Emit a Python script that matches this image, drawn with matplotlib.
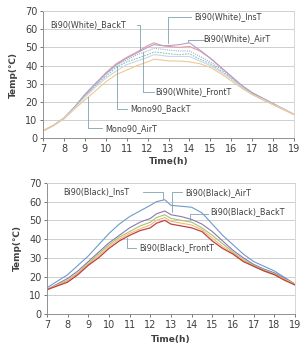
import matplotlib
matplotlib.use("Agg")
import matplotlib.pyplot as plt
import numpy as np

plt.rcParams['font.family'] = ['DejaVu Sans', 'Noto Sans CJK SC']

t = [7, 7.5, 8, 8.5, 9, 9.5, 10, 10.5, 11, 11.5, 12, 12.3, 12.7, 13, 13.5, 14,
     14.5, 15, 15.5, 16, 16.5, 17, 17.5, 18, 18.5, 19]

# top panel, white backsheet
w_ins = [4, 7, 11, 17, 24, 30, 36, 41, 44.5, 47.5, 51, 52.5, 51, 50.5, 50, 50.5,
         48, 44, 39, 34, 29, 25, 22, 19, 16, 13]
w_air = [4, 7, 11, 17, 24, 30, 35.5, 40.5, 44, 47, 50, 51.5, 51, 51, 51.5, 52.5,
         48.5, 44, 39, 34, 29, 25, 22, 19, 16, 13]
w_back = [4, 7, 11, 17, 23.5, 29, 35, 40, 43, 46, 48, 49.5, 49, 48.5, 48, 48,
          45, 42, 38, 33.5, 28.5, 24.5, 21.5, 18.5, 16, 13]
w_front = [4, 7, 11, 17, 23, 29, 34, 39, 42, 44, 46, 47.5, 47, 46.5, 46, 46.5,
           43.5, 41, 37, 33, 28, 24.5, 21.5, 18.5, 16, 13]
m_back = [4, 7, 11, 16.5, 22.5, 28, 33, 37, 40.5, 42.5, 44.5, 46, 45.5, 45, 45, 45,
          42.5, 40, 36.5, 32.5, 28, 24, 21.5, 18.5, 16, 13]
m_air = [4, 7, 10.5, 16, 21, 26, 31, 35, 37.5, 40, 42, 43.5, 43, 42.5, 42.5, 42,
         41, 39, 35.5, 31.5, 27.5, 24, 21, 18.5, 15.5, 13]

# bottom panel, black backsheet
b_ins = [14, 17.5, 21, 26, 31, 37, 43, 48, 52, 55, 58, 60, 61, 58, 57.5, 57,
         54, 48, 42, 37, 32, 28, 25.5, 23, 19.5, 16]
b_air = [13, 16, 19, 23, 28, 33, 38, 42, 46, 49, 51, 53.5, 55, 53, 52, 50.5,
         48, 44, 39, 34, 30, 26.5, 24, 22, 19, 16]
b_back = [13, 15.5, 18, 22, 27, 32, 37, 41, 44, 47, 49, 51.5, 53, 51, 50, 49,
          46, 42, 37.5, 33, 29, 26, 23.5, 21.5, 18.5, 16]
b_amb = [13, 15.5, 17.5, 21.5, 26.5, 31, 36, 40, 43, 45.5, 47.5, 50, 51.5, 49.5, 48.5, 47.5,
         45, 40.5, 36, 32.5, 28.5, 25.5, 23, 21, 18.5, 16]
b_front = [13, 15, 17, 21, 26, 30, 35, 39, 42, 44.5, 46, 48.5, 50, 48, 47, 46,
           44, 39, 35, 32, 28, 25.5, 23, 21, 18, 15.5]

fig = plt.figure(figsize=(3.01, 3.47), dpi=100)


def style(ax, xlab_y):
    ax.set_xlim(7, 19)
    ax.set_ylim(0, 70)
    ax.set_xticks(range(7, 20))
    ax.set_yticks(range(0, 71, 10))
    ax.grid(axis='y', color='#c8c8c8', lw=0.6)
    ax.set_axisbelow(True)
    for s in ['top', 'right']:
        ax.spines[s].set_color('#d0d0d0')
        ax.spines[s].set_linewidth(0.6)
    for s in ['left', 'bottom']:
        ax.spines[s].set_color('#909090')
        ax.spines[s].set_linewidth(0.7)
    ax.tick_params(labelsize=7, colors='#404040', length=2, width=0.5, pad=2)
    ax.set_xlabel('Time(h)', fontsize=6.5, fontweight='bold', color='#404040', labelpad=xlab_y)
    ax.set_ylabel('Temp(℃)', fontsize=6.5, fontweight='bold', color='#404040', labelpad=5)


def note(ax, text, pts, tx, ty):
    xs = [p[0] for p in pts]
    ys = [p[1] for p in pts]
    ax.plot(xs, ys, color='#7fa0b0', lw=0.6, clip_on=False)
    ax.text(tx, ty, text, fontsize=5.8, color='#404040', va='center', ha='left')


ax1 = fig.add_axes([0.143, 0.602, 0.834, 0.366])
ax1.plot(t, w_ins, color='#e79a9a', lw=0.8)
ax1.plot(t, w_air, color='#b4a0cc', lw=0.8)
ax1.plot(t, w_back, color='#9fb0c8', lw=0.8, ls=(0, (1, 1)))
ax1.plot(t, w_front, color='#8fc2c0', lw=0.8, ls=(0, (1.5, 1)))
ax1.plot(t, m_back, color='#c9d7e6', lw=0.8)
ax1.plot(t, m_air, color='#f1c98f', lw=0.8)
style(ax1, 2.5)
note(ax1, 'Bi90(White)_InsT', [(12.97, 52.5), (12.97, 67), (14.05, 67)], 14.25, 67)
note(ax1, 'Bi90(White)_BackT', [(11.64, 48.5), (11.64, 62.5), (11.5, 62.5)], 7.35, 62.5)
note(ax1, 'Bi90(White)_AirT', [(13.93, 53), (13.93, 54), (14.75, 54)], 14.65, 55)
note(ax1, 'Bi90(White)_FrontT', [(11.78, 47.5), (11.78, 25.5), (12.3, 25.5)], 12.35, 25.5)
note(ax1, 'Mono90_BackT', [(10.54, 40), (10.54, 16), (11.0, 16)], 11.15, 16)
note(ax1, 'Mono90_AirT', [(9.15, 22.5), (9.15, 5.5), (9.8, 5.5)], 9.95, 5.5)

ax2 = fig.add_axes([0.156, 0.095, 0.824, 0.378])
ax2.plot(t, b_ins, color='#6d9bc9', lw=0.8)
ax2.plot(t, b_air, color='#8b77b3', lw=0.8)
ax2.plot(t, b_back, color='#a6c56a', lw=0.8)
ax2.plot(t, b_amb, color='#f0b878', lw=0.8)
ax2.plot(t, b_front, color='#c04040', lw=0.9)
style(ax2, 4)
note(ax2, 'Bi90(Black)_InsT', [(12.61, 61.5), (12.61, 65), (11.65, 65)], 7.8, 65.5)
note(ax2, 'Bi90(Black)_AirT', [(13.05, 54.5), (13.05, 65), (13.55, 65)], 13.7, 65)
note(ax2, 'Bi90(Black)_BackT', [(13.92, 50), (13.92, 53.5), (14.8, 53.5)], 14.9, 54.5)
note(ax2, 'Bi90(Black)_FrontT', [(10.87, 40.5), (10.87, 35.5), (11.3, 35.5)], 11.45, 35.5)

fig.savefig('out.png', dpi=100)
